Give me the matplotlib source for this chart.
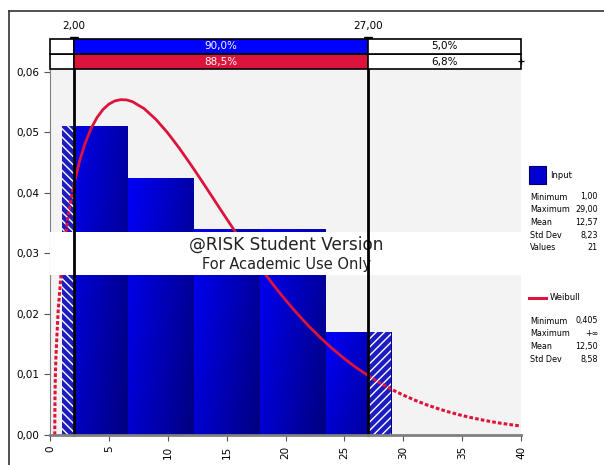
import numpy as np
import matplotlib
matplotlib.use("Agg")
import matplotlib.pyplot as plt
from matplotlib.lines import Line2D
from matplotlib.patches import Rectangle
from matplotlib.ticker import FuncFormatter, MultipleLocator

# Histogram of the input sample (21 values, 5 bins)
bin_edges = [1.0, 6.6, 12.2, 17.8, 23.4, 29.0]
bin_counts = [6, 5, 4, 4, 2]
n_values = 21

# Fitted Weibull density, sampled along x
curve_x = [0.405, 0.42, 0.45, 0.5, 0.7, 1, 1.25, 1.5, 1.75, 2, 2.5, 3, 3.5, 4,
           4.5, 5, 5.5, 6, 6.5, 7, 8, 9, 10, 11, 12, 13, 14, 15, 16, 17, 18,
           19, 20, 21, 22, 23, 24, 25, 26, 27, 28, 29, 30, 31, 32, 33, 34, 35,
           36, 37, 38, 39, 40]
curve_y = [0.0, 0.0058, 0.0093, 0.01282, 0.02079, 0.02791, 0.03220, 0.03568,
           0.03861, 0.04112, 0.04519, 0.04830, 0.05068, 0.05247, 0.05377,
           0.05466, 0.05519, 0.05540, 0.05536, 0.05507, 0.05391, 0.05213,
           0.04990, 0.04733, 0.04455, 0.04165, 0.03868, 0.03572, 0.03281,
           0.02999, 0.02729, 0.02472, 0.02230, 0.02004, 0.01794, 0.01601,
           0.01423, 0.01261, 0.01114, 0.00982, 0.00862, 0.00754, 0.00659,
           0.00574, 0.00498, 0.00432, 0.00373, 0.00322, 0.00277, 0.00237,
           0.00203, 0.00174, 0.00148]

# Delimiters and probability band
left_limit, right_limit = 2.0, 27.0
input_pcts = ["", "90,0%", "5,0%"]
fit_pcts = ["", "88,5%", "6,8%"]

input_stats = [("Minimum", "1,00"), ("Maximum", "29,00"), ("Mean", "12,57"),
               ("Std Dev", "8,23"), ("Values", "21")]
fit_stats = [("Minimum", "0,405"), ("Maximum", "+\u221e"), ("Mean", "12,50"),
             ("Std Dev", "8,58")]

BLUE = "#0000ff"
RED = "#dc143c"
W, H = 604, 465

plt.rcParams["font.family"] = ["DejaVu Sans"]
plt.rcParams["hatch.linewidth"] = 1.0

fig = plt.figure(figsize=(W / 100, H / 100), dpi=100)
fig.patch.set_facecolor("white")


def fx(px):
    return px / W


def fy(py):
    return 1 - py / H


# outer frame
fig.add_artist(Line2D([fx(9), fx(9)], [fy(11), 0], color="#333333", lw=1.2))
fig.add_artist(Line2D([fx(9), 1], [fy(11), fy(11)], color="#333333", lw=1.2))

ax = fig.add_axes([fx(50), fy(435), fx(521) - fx(50), fy(70) - fy(435)])
ax.set_facecolor("#f3f3f3")
ax.set_xlim(0, 40)
ax.set_ylim(0, 0.0603)

# histogram bars with gradient fill
widths = np.diff(bin_edges)
dens = [c / (n_values * w) for c, w in zip(bin_counts, widths)]
bars = ax.bar(bin_edges[:-1], dens, width=widths, align="edge",
              color="none", linewidth=0, zorder=2)
ny, nx = 64, 64
xf = np.linspace(0, 1, nx)[None, :]
yf = np.linspace(1, 0, ny)[:, None]
g = np.clip(0.7 * xf + 0.35 * (1 - yf), 0, 1)
bright = np.array([0.0, 0.0, 0.97])
dark = np.array([0.0, 0.0, 0.52])
grad = bright[None, None, :] * (1 - g[..., None]) + dark[None, None, :] * g[..., None]
for b in bars:
    x0, h, w = b.get_x(), b.get_height(), b.get_width()
    im = ax.imshow(grad, extent=(x0, x0 + w, 0, h), aspect="auto",
                   interpolation="bilinear", zorder=2)
    im.set_clip_path(b)

# hatched tails outside the delimiters
ax.bar([bin_edges[0]], [dens[0]], width=[left_limit - bin_edges[0]],
       align="edge", color="#1c1cc0", edgecolor="white", linewidth=0,
       hatch="\\\\\\\\", zorder=3)
ax.bar([right_limit], [dens[-1]], width=[bin_edges[-1] - right_limit],
       align="edge", color="#1c1cc0", edgecolor="white", linewidth=0,
       hatch="////", zorder=3)

# Weibull curve: solid between delimiters, dashed outside
cx = np.array(curve_x)
cy = np.array(curve_y)
inside = (cx >= left_limit) & (cx <= right_limit)
ax.plot(cx[inside], cy[inside], color=RED, lw=2.0, zorder=4,
        solid_capstyle="round", solid_joinstyle="round")
ax.plot(cx[cx <= left_limit], cy[cx <= left_limit], color=RED, lw=2.2,
        ls=(0, (1.2, 0.7)), zorder=4)
ax.plot(cx[cx >= right_limit], cy[cx >= right_limit], color=RED, lw=2.2,
        ls=(0, (1.2, 0.7)), zorder=4)

# watermark strip
ax.add_patch(Rectangle((0, 0.02645), 40, 0.0071, facecolor="white",
                       edgecolor="none", zorder=5))
ax.text(20.1, 0.0315, "@RISK Student Version", ha="center", va="center",
        fontsize=12.2, color="#222222", zorder=6)
ax.text(20.1, 0.0281, "For Academic Use Only", ha="center", va="center",
        fontsize=10.5, color="#222222", zorder=6)

# delimiter lines
top_y = (435 - 39) / 6050
for xv in (left_limit, right_limit):
    ax.add_line(Line2D([xv, xv], [0, top_y], color="black", lw=2.0,
                       zorder=7, clip_on=False))
    ax.plot([xv], [top_y - 0.0003], marker="v", color="black", ms=6,
            zorder=8, clip_on=False)
    ax.text(xv, (435 - 26) / 6050, f"{xv:.2f}".replace(".", ","),
            ha="center", va="center", fontsize=7.5, color="black")

# axes styling
for s in ("top", "right"):
    ax.spines[s].set_visible(False)
ax.spines["left"].set_color("#808080")
ax.spines["bottom"].set_color("#808080")
ax.spines["bottom"].set_linewidth(2.0)
ax.spines["bottom"].set_zorder(9)
ax.xaxis.set_major_locator(MultipleLocator(5))
ax.yaxis.set_major_locator(MultipleLocator(0.01))
ax.yaxis.set_major_formatter(FuncFormatter(lambda v, p: f"{v:.2f}".replace(".", ",")))
ax.tick_params(axis="both", colors="black", labelsize=7.5, length=4,
               width=0.8, direction="out")
ax.tick_params(axis="both", color="#555555")
for lab in ax.get_xticklabels():
    lab.set_rotation(90)

# probability band above the plot
bax = fig.add_axes([fx(50), fy(69), fx(521) - fx(50), fy(39) - fy(69)])
bax.set_xlim(0, 40)
bax.set_ylim(0, 2)
bax.axis("off")
segments = [(0, left_limit), (left_limit, right_limit), (right_limit, 40)]
for row, (pcts, col) in enumerate([(fit_pcts, RED), (input_pcts, BLUE)]):
    for i, (a, b) in enumerate(segments):
        fc = col if i == 1 else "white"
        bax.add_patch(Rectangle((a, row), b - a, 1, facecolor=fc,
                                edgecolor="black", lw=1.2, clip_on=False))
        if pcts[i]:
            bax.text((a + b) / 2, row + 0.5, pcts[i], ha="center",
                     va="center", fontsize=7.5,
                     color="white" if i == 1 else "black")
bax.plot([40], [0.5], marker="+", color="black", ms=4, mew=0.9, clip_on=False)

# legend panel
fig.add_artist(Rectangle((fx(529), fy(184)), fx(546) - fx(529),
                         fy(166) - fy(184), facecolor="#0000d0",
                         edgecolor="#000060", lw=0.8))
fig.text(fx(550), fy(175), "Input", fontsize=6, va="center")
for i, (k, v) in enumerate(input_stats):
    y = fy(197 + i * 12.7)
    fig.text(fx(530), y, k, fontsize=5.8, va="center")
    fig.text(fx(598), y, v, fontsize=5.8, va="center", ha="right")

fig.add_artist(Line2D([fx(529), fx(546)], [fy(298), fy(298)], color=RED,
                      lw=2.2))
fig.text(fx(550), fy(298), "Weibull", fontsize=6, va="center")
for i, (k, v) in enumerate(fit_stats):
    y = fy(321 + i * 12.7)
    fig.text(fx(530), y, k, fontsize=5.8, va="center")
    fig.text(fx(598), y, v, fontsize=5.8, va="center", ha="right")

fig.savefig("out.png", dpi=100, facecolor="white")
